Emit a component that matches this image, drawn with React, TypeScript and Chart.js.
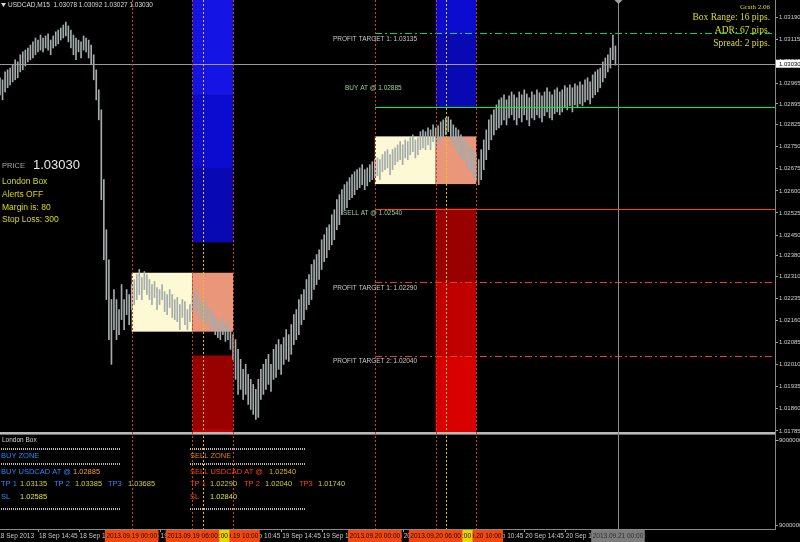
import React, { useEffect, useRef } from 'react';
import { Chart, registerables } from 'chart.js';

Chart.register(...registerables);

// ---------------- DATA ----------------
const HEADER_TEXT = 'USDCAD,M15  1.03078 1.03092 1.03027 1.03030';
const CURRENT_PRICE = 1.0303;

const BAR_HIGH = [
  1.02984, 1.02977, 1.03004, 1.03011, 1.03017,
  1.03028, 1.03045, 1.03038, 1.03062, 1.03072, 1.03078, 1.03085, 1.03095,
  1.03106, 1.03119, 1.03112, 1.03129, 1.03119, 1.03126,
  1.03133, 1.03112, 1.03126, 1.0314,
  1.03146, 1.03153, 1.03163, 1.03173, 1.0316, 1.03146,
  1.03129, 1.03119, 1.03112, 1.03106,
  1.03126, 1.03119, 1.03112, 1.03095,
  1.03062, 1.03011, 1.02943,
  1.02875, 1.02638,
  1.02468, 1.02366, 1.02231,
  1.02265, 1.02231, 1.02197, 1.02282, 1.02231, 1.02265, 1.02248,
  1.02282, 1.02299, 1.02316, 1.02333, 1.02306, 1.02326,
  1.02316, 1.02299, 1.02282, 1.02292, 1.02272, 1.02265, 1.02282, 1.02258, 1.02248, 1.02265,
  1.02248, 1.02231, 1.02238, 1.02214, 1.02231, 1.02224, 1.02197, 1.02214, 1.02248, 1.02265,
  1.02248, 1.02231, 1.02214, 1.02231, 1.02204, 1.02197, 1.0219, 1.0217,
  1.02163, 1.02156, 1.0217, 1.02146, 1.02163, 1.02129, 1.02112,
  1.02095, 1.02062, 1.02028,
  1.01994, 1.02011, 1.01977, 1.0196, 1.01943, 1.01926, 1.0196,
  1.01994, 1.02011, 1.02028, 1.02045, 1.02011, 1.02062, 1.02078,
  1.02095, 1.02078, 1.02102, 1.02129, 1.02112, 1.02146, 1.0218, 1.02197,
  1.02231, 1.02248, 1.02265, 1.02299, 1.02316,
  1.0235, 1.02366, 1.02384, 1.024,
  1.02434, 1.02451, 1.02475, 1.02485, 1.02519, 1.02536,
  1.0257, 1.02587, 1.02604, 1.02621, 1.02631, 1.02645,
  1.02655, 1.02665, 1.02672, 1.02678, 1.02689, 1.02672, 1.02678, 1.02689, 1.02699, 1.02706,
  1.02712, 1.02706, 1.02723, 1.02733, 1.0274, 1.02723, 1.0274, 1.02746, 1.02756, 1.02767,
  1.02756, 1.02773, 1.02767, 1.0278, 1.0279, 1.02773, 1.0278, 1.02801,
  1.02807, 1.02801, 1.02814, 1.02807, 1.02824, 1.02814, 1.02821, 1.02834,
  1.02841, 1.02848, 1.02851, 1.02841, 1.02824, 1.02814, 1.02807, 1.0279,
  1.0278, 1.02773, 1.02756, 1.02746, 1.0274, 1.02723,
  1.02706, 1.0274, 1.02773, 1.02807,
  1.02841, 1.02858, 1.02875, 1.02892,
  1.02909, 1.02916, 1.02926, 1.02909, 1.02923, 1.02936,
  1.02926, 1.02916, 1.02936, 1.02926, 1.02943, 1.02929, 1.02916, 1.02936,
  1.02926, 1.02943, 1.02933, 1.02923, 1.02936, 1.0295, 1.02936, 1.02926, 1.02943, 1.0295, 1.02936,
  1.02943, 1.02957, 1.0295, 1.0296, 1.0295, 1.02963, 1.02957, 1.0297, 1.0296, 1.02977, 1.02984, 1.0297,
  1.02994, 1.03004, 1.03011, 1.03017,
  1.03038, 1.03051, 1.03062, 1.03085, 1.03129, 1.03092,
];

const BAR_LOW = [
  1.02926, 1.02909, 1.02936, 1.0295, 1.0296,
  1.0297, 1.02977, 1.02984, 1.03004, 1.03011, 1.03024, 1.03038, 1.03045,
  1.03051, 1.03062, 1.03072, 1.03078, 1.03072, 1.03085,
  1.03078, 1.03062, 1.03085, 1.03092,
  1.03099, 1.03112, 1.03119, 1.03126, 1.03106, 1.03085,
  1.03062, 1.03045, 1.03072, 1.03051,
  1.03078, 1.03072, 1.03051, 1.03028,
  1.02977, 1.02909, 1.02841,
  1.0257, 1.02366,
  1.02231, 1.02095, 1.02011,
  1.02129, 1.02095, 1.02112, 1.02163, 1.02129, 1.0218, 1.02146,
  1.02197, 1.02214, 1.02231, 1.02248, 1.02231, 1.02265,
  1.02248, 1.02231, 1.02214, 1.02238, 1.02197, 1.02214, 1.02231, 1.0219, 1.0218, 1.02204,
  1.0217, 1.02163, 1.02156, 1.02129, 1.0217, 1.02146, 1.02129, 1.02156, 1.0219, 1.02197,
  1.0218, 1.02163, 1.0217, 1.02146, 1.02156, 1.02129, 1.02136, 1.02112,
  1.02102, 1.02095, 1.02112, 1.02089, 1.02095, 1.02062, 1.02028,
  1.0196, 1.01909, 1.01926,
  1.01892, 1.01909, 1.01875, 1.01858, 1.01841, 1.01824, 1.01831,
  1.01892, 1.01909, 1.01926, 1.01943, 1.01919, 1.0196, 1.01967,
  1.01994, 1.01977, 1.02011, 1.02028, 1.02021, 1.02045, 1.02078, 1.02095,
  1.02112, 1.02146, 1.02163, 1.02197, 1.02214,
  1.02231, 1.02265, 1.02282, 1.02299,
  1.02333, 1.0236, 1.02373, 1.024, 1.02417, 1.02434,
  1.02468, 1.02485, 1.02519, 1.02536, 1.02543, 1.0257,
  1.02577, 1.02587, 1.02604, 1.02611, 1.02621, 1.02604, 1.02617, 1.02631, 1.02638, 1.02645,
  1.02651, 1.02638, 1.02665, 1.02672, 1.02678, 1.02655, 1.02672, 1.02689, 1.02699, 1.02706,
  1.02689, 1.02712, 1.02706, 1.02723, 1.02733, 1.02712, 1.02723, 1.0274,
  1.02746, 1.0274, 1.02756, 1.0274, 1.02767, 1.02746, 1.02756, 1.02773,
  1.0278, 1.0279, 1.02801, 1.02773, 1.02756, 1.0274, 1.02723, 1.02712,
  1.02706, 1.02689, 1.02672, 1.02665, 1.02645, 1.02631,
  1.02621, 1.02638, 1.02672, 1.02706,
  1.0274, 1.02773, 1.0279, 1.02807,
  1.02814, 1.02824, 1.02841, 1.02824, 1.02848, 1.02858,
  1.02841, 1.02824, 1.02848, 1.02834, 1.02858, 1.02841, 1.02821, 1.02848,
  1.02841, 1.02858, 1.02848, 1.02834, 1.02855, 1.02868, 1.02848, 1.02841, 1.02862, 1.02868, 1.02858,
  1.02868, 1.02882, 1.02875, 1.02889, 1.02868, 1.02892, 1.02882, 1.02895, 1.02889, 1.02902, 1.02909, 1.02895,
  1.02916, 1.02926, 1.02936, 1.0295,
  1.0297, 1.02984, 1.03004, 1.03017, 1.03045, 1.03027,
];

const Y_TICKS = [
  1.0319, 1.03115, 1.0304, 1.02965, 1.02895, 1.02825, 1.0275, 1.02675, 1.026, 1.02525,
  1.0245, 1.0238, 1.0231, 1.02235, 1.0216, 1.02085, 1.0201, 1.01935, 1.0186, 1.01785,
];
const Y_MIN = 1.01452;
const Y_MAX = 1.03248;
const X_SLOTS = 306;

const X_TICK_BARS = [-1.5, 15, 31, 47, 63, 79, 95, 111, 127, 143, 159, 175, 191, 207, 223, 239];
const X_TICK_TEXT = [
  '18 Sep 2013', '18 Sep 14:45', '18 Sep 18:45', '18 Sep 22:45', '19 Sep 02:45', '19 Sep 06:45',
  '19 Sep 10:45', '19 Sep 14:45', '19 Sep 18:45', '19 Sep 22:45', '20 Sep 02:45', '20 Sep 06:45',
  '20 Sep 10:45', '20 Sep 14:45', '20 Sep 18:45', '20 Sep 22:45',
];

const SESSION_BARS = [52, 76, 80, 92, 148, 172, 176, 188];
const SESSION_TEXT = [
  '2013.09.19 00:00', '2013.09.19 06:00', '2013.09.19 07:00', '2013.09.19 10:00',
  '2013.09.20 00:00', '2013.09.20 06:00', '2013.09.20 07:00', '2013.09.20 10:00',
];
const SESSION_KIND = ['open', 'start', 'alert', 'end', 'open', 'start', 'alert', 'end'];
const WEEK_END_BAR = 244;
const WEEK_END_TEXT = '2013.09.21 00:00';

const BOX_START = [52, 148];
const BOX_SPLIT = [76, 172];
const BOX_END = [92, 188];
const BOX_HIGH = [1.02322, 1.02785];
const BOX_LOW = [1.02122, 1.02623];
const BUY_LEVELS = [
  [1.02425, 1.02675, 1.02925],
  [1.02885, 1.03135, 1.03385],
];
const SELL_LEVELS = [
  [1.02041, 1.01791, 1.01541],
  [1.0254, 1.0229, 1.0204],
];

const LINES_FROM_BAR = 148;
const LEVEL_PRICES = [1.03135, 1.02885, 1.0254, 1.0229, 1.0204];
const LEVEL_KIND = ['tpBuy', 'buy', 'sell', 'tpSell', 'tpSell'];
const LEVEL_LABELS = [
  'PROFIT TARGET 1: 1.03135',
  'BUY AT @ 1.02885',
  'SELL AT @ 1.02540',
  'PROFIT TARGET 1: 1.02290',
  'PROFIT TARGET 2: 1.02040',
];

const INFO_RIGHT = ['Box Range: 16 pips.', 'ADR: 67 pips.', 'Spread: 2 pips.'];
const INFO_LEFT = ['London Box', 'Alerts OFF', 'Margin is: 80', 'Stop Loss: 300'];

// ---------------- STYLE ----------------
const SANS = 'Arial, "Liberation Sans", sans-serif';
const SERIF = '"Liberation Serif", "Times New Roman", serif';
const BAR_COLOR = '#a4acac';
const CREAM = '#fcf9d4';
const SALMON = '#e9967a';
const BLUE_SHADES = ['#0909b4', '#0c0cd0', '#1414e4'];
const RED_SHADES = ['#990000', '#c00000', '#d80000'];
const PANEL_SPLIT = 432;

function App() {
  const ref = useRef<HTMLCanvasElement>(null);

  useEffect(() => {
    const canvas = ref.current;
    if (!canvas) return;

    const text = (ctx: CanvasRenderingContext2D, s: string, x: number, y: number, color: string, font: string, align: CanvasTextAlign = 'left') => {
      ctx.font = font;
      ctx.fillStyle = color;
      ctx.textAlign = align;
      ctx.textBaseline = 'middle';
      ctx.fillText(s, x, y);
    };

    const hline = (ctx: CanvasRenderingContext2D, x0: number, x1: number, y: number, color: string, dash: number[], h = 1) => {
      ctx.save();
      ctx.fillStyle = color;
      const yy = Math.round(y);
      if (!dash.length) {
        ctx.fillRect(Math.round(x0), yy, Math.round(x1 - x0), h);
      } else {
        let x = Math.round(x0);
        let k = 0;
        while (x < x1) {
          const len = dash[k % dash.length];
          if (k % 2 === 0) ctx.fillRect(x, yy, Math.min(len, x1 - x), h);
          x += len;
          k++;
        }
      }
      ctx.restore();
    };

    const vline = (ctx: CanvasRenderingContext2D, x: number, y0: number, y1: number, color: string, dash: number[]) => {
      ctx.save();
      ctx.fillStyle = color;
      const xx = Math.round(x);
      if (!dash.length) {
        ctx.fillRect(xx, y0, 1, y1 - y0);
      } else {
        let y = y0;
        let k = 0;
        while (y < y1) {
          const len = dash[k % dash.length];
          if (k % 2 === 0) ctx.fillRect(xx, y, 1, Math.min(len, y1 - y));
          y += len;
          k++;
        }
      }
      ctx.restore();
    };

    const overlay = {
      id: 'mtOverlay',
      beforeDatasetsDraw(chart: any) {
        const { ctx, scales } = chart;
        const xs = scales.x;
        const ys = scales.y;
        const top = chart.chartArea.top;
        ctx.save();
        for (let b = 0; b < BOX_START.length; b++) {
          const x0 = xs.getPixelForValue(BOX_START[b]);
          const xm = xs.getPixelForValue(BOX_SPLIT[b]);
          const x1 = xs.getPixelForValue(BOX_END[b]);
          const yh = ys.getPixelForValue(BOX_HIGH[b]);
          const yl = ys.getPixelForValue(BOX_LOW[b]);
          ctx.fillStyle = CREAM;
          ctx.fillRect(x0, yh, xm - x0, yl - yh);
          ctx.fillStyle = SALMON;
          ctx.fillRect(xm, yh, x1 - xm, yl - yh);
          const bl = BUY_LEVELS[b];
          for (let k = 0; k < bl.length; k++) {
            const yA = ys.getPixelForValue(bl[k]);
            const yB = k + 1 < bl.length ? ys.getPixelForValue(bl[k + 1]) : top;
            const yt = Math.max(top, yB);
            if (yA <= top) continue;
            ctx.fillStyle = BLUE_SHADES[k];
            ctx.fillRect(xm, yt, x1 - xm, yA - yt);
          }
          const sl = SELL_LEVELS[b];
          for (let k = 0; k < sl.length; k++) {
            const yA = ys.getPixelForValue(sl[k]);
            const yB = k + 1 < sl.length ? ys.getPixelForValue(sl[k + 1]) : PANEL_SPLIT;
            const yb = Math.min(PANEL_SPLIT, yB);
            if (yA >= PANEL_SPLIT) continue;
            ctx.fillStyle = RED_SHADES[k];
            ctx.fillRect(xm, yA, x1 - xm, yb - yA);
          }
        }
        ctx.restore();
      },
      afterDatasetsDraw(chart: any) {
        const { ctx, scales, chartArea } = chart;
        const xs = scales.x;
        const ys = scales.y;
        const right = chartArea.right;
        const bottom = chartArea.bottom;

        ctx.fillStyle = '#000';
        ctx.fillRect(0, PANEL_SPLIT, right, bottom - PANEL_SPLIT);
        ctx.fillStyle = '#b8b8b8';
        ctx.fillRect(0, PANEL_SPLIT, right, 2);
        ctx.fillStyle = '#707070';
        ctx.fillRect(0, PANEL_SPLIT + 2, right, 1);

        hline(ctx, 0, right, ys.getPixelForValue(CURRENT_PRICE), '#9a9a9a', []);

        const lx = xs.getPixelForValue(LINES_FROM_BAR);
        for (let i = 0; i < LEVEL_PRICES.length; i++) {
          const y = ys.getPixelForValue(LEVEL_PRICES[i]);
          const k = LEVEL_KIND[i];
          if (k === 'tpBuy') hline(ctx, lx, right, y, '#00d070', [7, 3, 2, 3]);
          else if (k === 'buy') hline(ctx, lx, right, y, '#00f040', []);
          else if (k === 'sell') hline(ctx, lx, right, y, '#ff4010', []);
          else hline(ctx, lx, right, y, '#e84010', [7, 3, 2, 3]);
        }

        for (let i = 0; i < SESSION_BARS.length; i++) {
          const x = xs.getPixelForValue(SESSION_BARS[i]);
          const color = SESSION_KIND[i] === 'alert' ? '#e8c800' : '#d83c10';
          vline(ctx, x, 0, bottom, color, [2, 2]);
        }
        const wx = xs.getPixelForValue(WEEK_END_BAR);
        vline(ctx, wx, 0, bottom, '#8a8a8a', []);
        ctx.fillStyle = '#a0a0a0';
        ctx.beginPath();
        ctx.moveTo(Math.round(wx) - 3.5, 0);
        ctx.lineTo(Math.round(wx) + 4.5, 0);
        ctx.lineTo(Math.round(wx) + 0.5, 4);
        ctx.closePath();
        ctx.fill();

        const labelX = [333, 345, 343, 333, 333];
        const labelDy = [6, -19, 5, 6, 5];
        for (let i = 0; i < LEVEL_LABELS.length; i++) {
          const y = ys.getPixelForValue(LEVEL_PRICES[i]) + labelDy[i];
          const c = LEVEL_KIND[i] === 'buy' || LEVEL_KIND[i] === 'sell' ? '#98d098' : '#c8c8c8';
          text(ctx, LEVEL_LABELS[i], labelX[i], y, c, `6.5px ${SANS}`);
        }
      },
      afterDraw(chart: any) {
        const { ctx, scales, chartArea } = chart;
        const xs = scales.x;
        const ys = scales.y;
        const right = chartArea.right;
        const bottom = chartArea.bottom;

        ctx.fillStyle = '#d8d8d8';
        ctx.beginPath();
        ctx.moveTo(1, 3);
        ctx.lineTo(6, 3);
        ctx.lineTo(3.5, 7);
        ctx.closePath();
        ctx.fill();
        text(ctx, HEADER_TEXT, 8, 5.5, '#dcdcdc', `6.5px ${SANS}`);

        text(ctx, 'Grath 2.06', 770, 7, '#d8d820', `7px ${SERIF}`, 'right');
        const infoY = [17.5, 30.5, 43];
        for (let i = 0; i < INFO_RIGHT.length; i++) {
          text(ctx, INFO_RIGHT[i], 770, infoY[i], '#dede1e', `9.5px ${SERIF}`, 'right');
        }

        text(ctx, 'PRICE', 2, 166, '#a8a8a8', `7.5px ${SANS}`);
        text(ctx, CURRENT_PRICE.toFixed(5), 33, 165, '#e8e8e8', `13px ${SANS}`);
        const leftY = [182, 194.5, 207.5, 220];
        for (let i = 0; i < INFO_LEFT.length; i++) {
          text(ctx, INFO_LEFT[i], 2, leftY[i], '#dcdc10', `8.5px ${SANS}`);
        }

        text(ctx, 'London Box', 2, 440.5, '#d0d0d0', `6.5px ${SANS}`);
        const dotRows = [448, 463, 508];
        for (const y of dotRows) {
          hline(ctx, 1, 120, y, '#b8b8b8', [1, 1], 2);
          hline(ctx, 190, 305, y, '#b8b8b8', [1, 1], 2);
        }
        const F = `7.5px ${SANS}`;
        const BLUE = '#1e90ff';
        const ORR = '#ff4500';
        const VAL = '#d0d030';
        text(ctx, 'BUY ZONE', 1, 456, BLUE, F);
        text(ctx, 'BUY USDCAD AT @', 1, 472, BLUE, F);
        text(ctx, BUY_LEVELS[1][0].toFixed(5), 73, 472, '#f0a020', F);
        text(ctx, 'TP 1', 1, 484, BLUE, F);
        text(ctx, '1.03135', 20, 484, VAL, F);
        text(ctx, 'TP 2', 54, 484, BLUE, F);
        text(ctx, '1.03385', 75, 484, VAL, F);
        text(ctx, 'TP3', 108, 484, BLUE, F);
        text(ctx, '1.03685', 128, 484, VAL, F);
        text(ctx, 'SL', 1, 497, BLUE, F);
        text(ctx, '1.02585', 20, 497, '#e0e030', F);

        text(ctx, 'SELL ZONE', 190, 456, '#e08010', F);
        text(ctx, 'SELL USDCAD AT @', 190, 472, ORR, F);
        text(ctx, SELL_LEVELS[1][0].toFixed(5), 269, 472, '#e0b000', F);
        text(ctx, 'TP 1', 190, 484, ORR, F);
        text(ctx, '1.02290', 210, 484, VAL, F);
        text(ctx, 'TP 2', 244, 484, ORR, F);
        text(ctx, '1.02040', 265, 484, VAL, F);
        text(ctx, 'TP3', 299, 484, ORR, F);
        text(ctx, '1.01740', 318, 484, VAL, F);
        text(ctx, 'SL', 190, 497, ORR, F);
        text(ctx, '1.02840', 210, 497, '#e0e030', F);

        hline(ctx, 0, right, bottom, '#8a8a8a', []);
        ctx.fillStyle = '#a0a0a0';
        ctx.fillRect(right, 440, 3, 1);
        ctx.fillRect(right, 525, 3, 1);
        text(ctx, '-9000000', 777, 440.5, '#d0d0d0', `6px ${SANS}`);
        text(ctx, '9000000', 779, 525.5, '#d0d0d0', `6px ${SANS}`);

        const cy = ys.getPixelForValue(CURRENT_PRICE);
        ctx.fillStyle = '#ffffff';
        ctx.fillRect(right + 1, cy - 4.5, 800 - right, 8);
        text(ctx, CURRENT_PRICE.toFixed(5), right + 4, cy, '#000', `6px ${SANS}`);

        const XF = `6.5px ${SANS}`;
        for (let i = 0; i < X_TICK_BARS.length; i++) {
          const x = xs.getPixelForValue(X_TICK_BARS[i]);
          ctx.fillStyle = '#a0a0a0';
          ctx.fillRect(Math.round(x), bottom + 1, 1, 2);
          text(ctx, X_TICK_TEXT[i], x + 1, 536.5, '#c8c8c8', XF);
        }
        const order = [3, 2, 1, 0, 7, 6, 5, 4];
        ctx.font = XF;
        for (const i of order) {
          const x = xs.getPixelForValue(SESSION_BARS[i]);
          const w = ctx.measureText(SESSION_TEXT[i]).width + 3;
          ctx.fillStyle = SESSION_KIND[i] === 'alert' ? '#e8d800' : '#f04810';
          ctx.fillRect(x - w / 2, bottom + 1, w, 542 - bottom - 1);
          text(ctx, SESSION_TEXT[i], x, 536.5, '#1a0800', XF, 'center');
        }
        {
          const x = xs.getPixelForValue(WEEK_END_BAR);
          ctx.font = XF;
          const w = ctx.measureText(WEEK_END_TEXT).width + 3;
          ctx.fillStyle = '#7c7c7c';
          ctx.fillRect(x - w / 2, bottom + 1, w, 542 - bottom - 1);
          text(ctx, WEEK_END_TEXT, x, 536.5, '#303030', XF, 'center');
        }
      },
    };

    const chart = new Chart(canvas, {
      type: 'bar',
      data: {
        datasets: [
          {
            data: BAR_HIGH.map((h, i) => ({ x: i, y: [BAR_LOW[i], h] })),
            backgroundColor: BAR_COLOR,
            borderWidth: 0,
            barThickness: 1,
          } as any,
        ],
      },
      options: {
        animation: false,
        responsive: false,
        maintainAspectRatio: false,
        layout: { padding: { left: 0, right: 0, top: 0, bottom: 13 } },
        plugins: { legend: { display: false }, tooltip: { enabled: false } },
        scales: {
          x: {
            type: 'linear',
            min: 0,
            max: X_SLOTS,
            display: false,
            offset: false,
            grid: { offset: false },
          },
          y: {
            type: 'linear',
            position: 'right',
            min: Y_MIN,
            max: Y_MAX,
            afterBuildTicks: (scale: any) => {
              scale.ticks = Y_TICKS.map((v) => ({ value: v }));
            },
            afterFit: (scale: any) => {
              scale.width = 25;
              scale.paddingTop = 0;
              scale.paddingBottom = 0;
            },
            ticks: {
              autoSkip: false,
              padding: 1,
              color: '#d0d0d0',
              font: { size: 6, family: SANS },
              callback: (v: any) => Number(v).toFixed(5),
            },
            grid: { drawOnChartArea: false, drawTicks: true, tickLength: 3, color: '#a0a0a0' },
            border: { display: true, color: '#8a8a8a', width: 1 },
          },
        },
      } as any,
      plugins: [overlay],
    });

    return () => chart.destroy();
  }, []);

  return (
    <div style={{ position: 'absolute', left: 0, top: 0, width: 800, height: 542, background: '#000', overflow: 'hidden' }}>
      <canvas ref={ref} width={800} height={542} style={{ display: 'block', width: 800, height: 542 }} />
    </div>
  );
}

export default App;
